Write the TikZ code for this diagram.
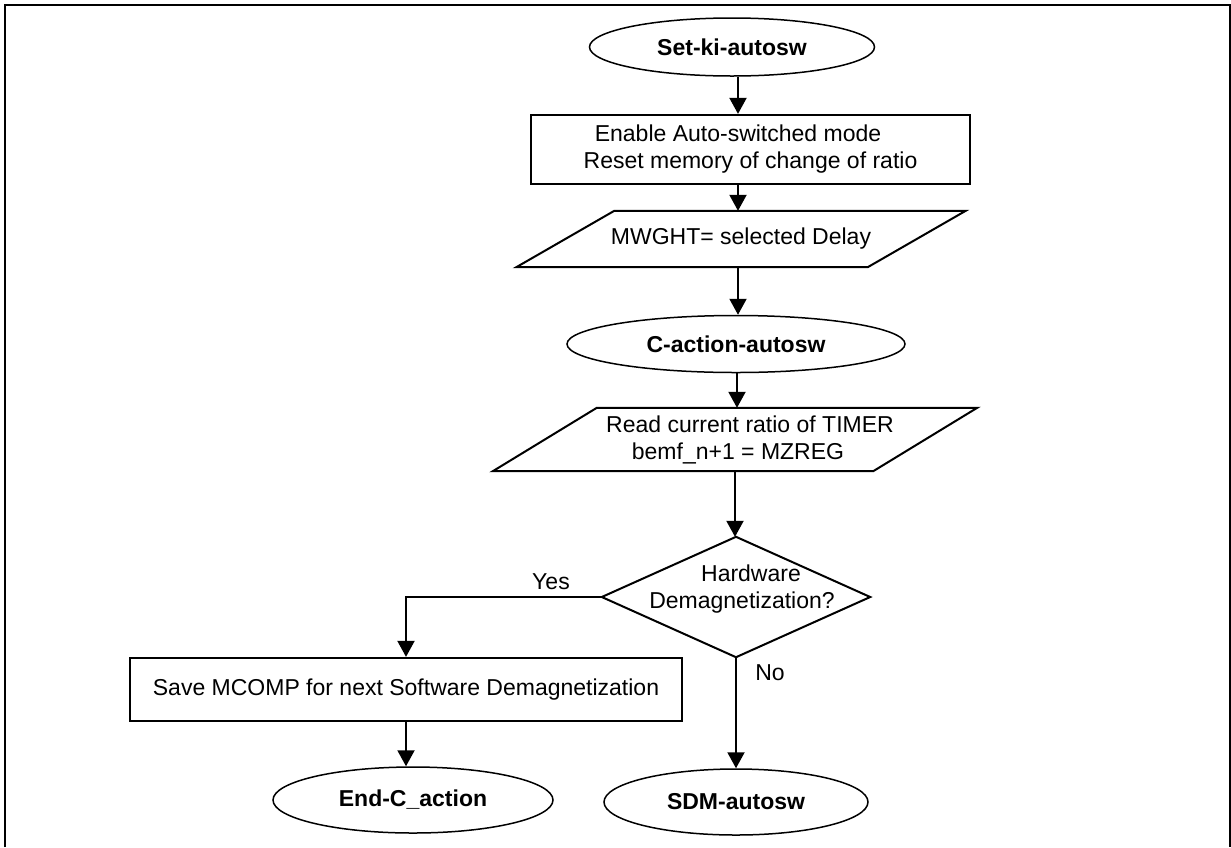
\documentclass[tikz,border=0pt]{standalone}
\usepackage{fontspec}
\setmainfont{Liberation Sans}
\usetikzlibrary{arrows.meta,shapes.geometric}
\begin{document}
\begin{tikzpicture}[x=1pt,y=-1pt,
  font=\fontsize{23pt}{27pt}\selectfont,
  term/.style={ellipse,draw,line width=1.5pt,inner sep=0pt,
    font=\fontsize{23pt}{27pt}\selectfont\bfseries},
  proc/.style={rectangle,draw,line width=2.3pt,inner sep=0pt,align=center},
  io/.style={rectangle,inner sep=0pt,align=center},
  outline/.style={line width=2pt,line join=miter},
  arr/.style={line width=2pt,-{Triangle[width=17pt,length=16pt]}},
  flow/.style={line width=2pt}]

% page and frame (open at the bottom)
\useasboundingbox (0,0) rectangle (1231,847);
\fill[white] (0,0) rectangle (1231,847);
\draw[line width=2.6pt] (5,847) -- (5,5) -- (1230,5) -- (1230,847);

% main column
\node[term,minimum width=285pt,minimum height=58pt] (start) at (732,47) {Set-ki-autosw};
\node[proc,minimum width=439pt,minimum height=69pt] (init) at (750.5,149.5)
  {Enable Auto-switched mode\hspace*{25pt}\\Reset memory of change of ratio};

\node[io,minimum width=351pt,minimum height=56pt] (delay) at (741,239) {MWGHT= selected Delay};
\draw[outline] ([xshift=-49pt]delay.south west) -- ([xshift=49pt]delay.north west)
  -- ([xshift=49pt]delay.north east) -- ([xshift=-49pt]delay.south east) -- cycle;

\node[term,minimum width=338pt,minimum height=57pt] (cact) at (736,344) {C-action-autosw};

\node[io,minimum width=380pt,minimum height=63pt] (read) at (735,439.5)
  {\hspace*{30pt}Read current ratio of TIMER\\\hspace*{6pt}bemf\_n+1 = MZREG};
\draw[outline] ([xshift=-52pt]read.south west) -- ([xshift=52pt]read.north west)
  -- ([xshift=52pt]read.north east) -- ([xshift=-52pt]read.south east) -- cycle;

% decision
\node[inner sep=0pt,minimum width=268pt,minimum height=120pt] (dec) at (736,597) {};
\draw[outline] (dec.north) -- (dec.east) -- (dec.south) -- (dec.west) -- cycle;
\node[align=center,inner sep=0pt] (dectext) at (742,589) {\hspace*{18pt}Hardware\\Demagnetization?};

% branches
\node[proc,minimum width=552pt,minimum height=63pt] (save) at (406,689.5)
  {Save MCOMP for next Software Demagnetization};
\node[term,minimum width=280pt,minimum height=66pt] (endc) at (413,800) {End-C\_action};
\node[term,minimum width=264pt,minimum height=66pt] (sdm) at (736,802) {SDM-autosw};

\node[inner sep=0pt] (yes) at (551,582) {Yes};
\node[inner sep=0pt] (no) at (770,673) {No};

% connectors
\coordinate (colA) at (738,0);
\coordinate (colB) at (737,0);
\draw[arr] (colA |- start.south) -- (colA |- init.north);
\draw[arr] (colA |- init.south) -- (colA |- delay.north);
\draw[arr] (colA |- delay.south) -- (colA |- cact.north);
\draw[arr] (colB |- cact.south) -- (colB |- read.north);
\draw[arr] (read.south) -- (read.south |- dec.north);
\draw[arr] (dec.west) -| (save.north);
\draw[arr] (dec.south) -- (dec.south |- sdm.north);
\draw[arr] (save.south) -- (save.south |- endc.north);
\end{tikzpicture}
\end{document}
